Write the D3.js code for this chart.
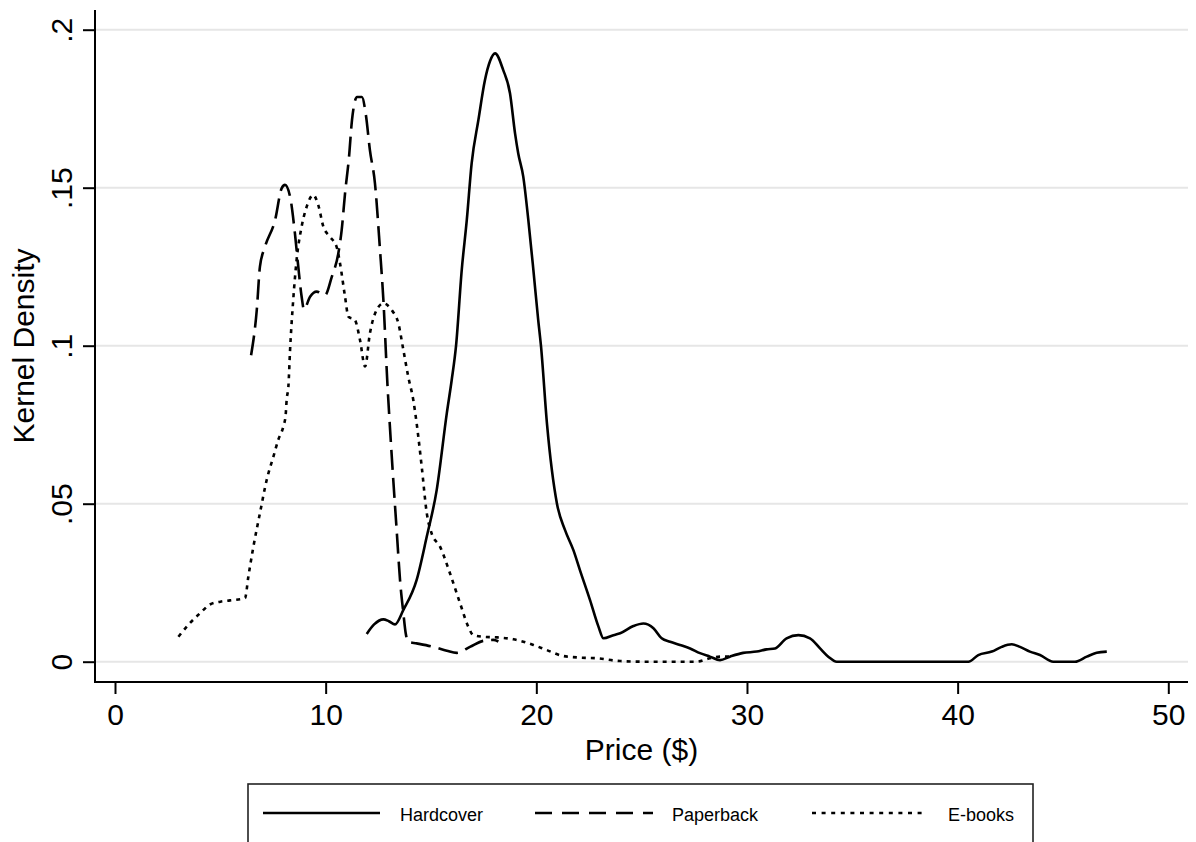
<!DOCTYPE html>
<html>
<head>
<meta charset="utf-8">
<script src="https://cdn.jsdelivr.net/npm/d3@7"></script>
<style>
  html, body { margin: 0; padding: 0; background: #fff; }
  svg { display: block; font-family: "Liberation Sans", Arial, Helvetica, sans-serif; }
</style>
</head>
<body>
<svg id="chart" width="1196" height="842"></svg>
<script>
// ---- data ----
const seriesNames = ["Hardcover", "Paperback", "E-books"];
const xTicks = [0, 10, 20, 30, 40, 50];
const yTicks = [0, 0.05, 0.1, 0.15, 0.2];
const yTickLabels = ["0", ".05", ".1", ".15", ".2"];

const hardcover = [
  [11.95,0.0088],[12.3,0.0118],[12.74,0.0134],[13.0,0.0128],[13.29,0.0118],[13.69,0.0164],
  [14.32,0.0259],[14.8,0.0396],[15.27,0.0543],[15.75,0.0786],[15.98,0.089],[16.19,0.1],
  [16.46,0.124],[16.7,0.1398],[16.93,0.1577],[17.25,0.1714],[17.56,0.184],[17.8,0.19],
  [18.04,0.1925],[18.43,0.1872],[18.75,0.1799],[18.99,0.1672],[19.14,0.1609],[19.38,0.1535],
  [19.62,0.1398],[19.86,0.124],[20.09,0.1081],[20.22,0.1],[20.51,0.075],[20.98,0.05],
  [21.36,0.0417],[21.76,0.0353],[22.07,0.029],[22.55,0.0195],[22.95,0.0111],[23.19,0.0074],
  [23.66,0.0084],[23.98,0.009],[24.61,0.0113],[25.08,0.0121],[25.56,0.0106],[25.95,0.0074],
  [26.35,0.0063],[26.82,0.0053],[27.3,0.0042],[27.77,0.0027],[28.24,0.0016],[28.72,0.0005],
  [29.19,0.0016],[29.82,0.0028],[30.46,0.0032],[30.93,0.0039],[31.33,0.0042],[31.88,0.0074],
  [32.44,0.0084],[32.99,0.0074],[33.47,0.0042],[33.86,0.0016],[34.26,0],[40.51,0],
  [40.98,0.0021],[41.62,0.0032],[42.09,0.0047],[42.57,0.0055],[42.96,0.0047],[43.43,0.0032],
  [43.91,0.0021],[44.54,0],[45.57,0],[46.13,0.0016],[46.6,0.0028],[47.08,0.0032]
];

const paperback = [
  [6.46,0.097],[6.73,0.1113],[6.88,0.125],[7.12,0.1313],[7.6,0.1398],[7.91,0.1498],
  [8.07,0.1509],[8.31,0.1472],[8.54,0.1356],[8.7,0.125],[8.86,0.1155],[8.97,0.1115],
  [9.26,0.1155],[9.57,0.1171],[9.97,0.116],[10.29,0.1218],[10.6,0.1292],[10.76,0.1366],
  [10.92,0.1482],[11.11,0.1598],[11.25,0.1714],[11.49,0.1787],[11.72,0.1787],[11.91,0.173],
  [12.1,0.1619],[12.34,0.1514],[12.58,0.1303],[12.74,0.1145],[12.93,0.0881],[13.06,0.0733],
  [13.21,0.0575],[13.37,0.0417],[13.53,0.0259],[13.69,0.0153],[13.8,0.009],[13.92,0.0063],
  [14.32,0.0058],[15.11,0.0047],[15.75,0.0035],[16.22,0.0028],[16.85,0.0047],[17.48,0.0066],
  [17.96,0.0069],[18.2,0.0064]
];

const ebooks = [
  [3.01,0.0079],[3.5,0.0118],[4.03,0.0153],[4.51,0.0181],[5.0,0.019],[5.46,0.0194],
  [6.17,0.0201],[6.33,0.0269],[6.57,0.0364],[6.88,0.047],[7.2,0.0575],[7.52,0.0649],
  [7.75,0.0702],[7.99,0.0744],[8.1,0.078],[8.15,0.083],[8.23,0.087],[8.31,0.0986],
  [8.46,0.1145],[8.62,0.1271],[8.86,0.1377],[9.1,0.144],[9.41,0.1477],[9.65,0.1445],
  [9.89,0.1377],[10.2,0.1345],[10.52,0.1313],[10.68,0.1261],[10.92,0.1155],[11.08,0.1092],
  [11.39,0.1081],[11.63,0.1018],[11.87,0.0934],[12.1,0.1039],[12.42,0.1113],[12.74,0.1134],
  [13.13,0.1113],[13.45,0.1071],[13.69,0.0986],[13.92,0.0902],[14.16,0.0828],[14.32,0.0754],
  [14.56,0.0617],[14.8,0.047],[15.03,0.0406],[15.43,0.0364],[15.9,0.028],[16.38,0.0185],
  [16.77,0.0111],[17.01,0.0084],[17.48,0.0079],[18.12,0.0077],[18.91,0.0071],[19.86,0.0053],
  [20.49,0.0037],[21.28,0.0018],[22.07,0.0013],[22.86,0.0011],[23.98,0.0002],[25.25,0],
  [27.62,0],[28.24,0.0011],[28.72,0.0016],[29.19,0.0016]
];

// ---- layout ----
const svg = d3.select("#chart");
const plotLeft = 95, plotRight = 1188, plotTop = 10, plotBottom = 682;
const x = d3.scaleLinear().domain([0, 50]).range([115, 1168.3]);
const y = d3.scaleLinear().domain([0, 0.2]).range([661.7, 29.7]);

svg.append("rect").attr("width", 1196).attr("height", 842).attr("fill", "#fff");

// gridlines
svg.append("g").selectAll("line").data(yTicks).join("line")
  .attr("x1", plotLeft).attr("x2", plotRight)
  .attr("y1", d => y(d)).attr("y2", d => y(d))
  .attr("stroke", "#e6e6e6").attr("stroke-width", 2);

// curves
const line = d3.line().x(d => x(d[0])).y(d => y(d[1])).curve(d3.curveMonotoneX);
const styles = [
  { data: hardcover, dash: null },
  { data: paperback, dash: "20,8" },
  { data: ebooks, dash: "4,5" }
];
styles.forEach(s => {
  svg.append("path").datum(s.data)
    .attr("d", line)
    .attr("fill", "none")
    .attr("stroke", "#000")
    .attr("stroke-width", 2.6)
    .attr("stroke-linejoin", "round")
    .attr("stroke-dasharray", s.dash);
});

// x axis
const xAxis = svg.append("g").attr("transform", `translate(0,${plotBottom})`)
  .call(d3.axisBottom(x).tickValues(xTicks).tickSize(12).tickFormat(d3.format("d")));
xAxis.select(".domain").remove();
xAxis.selectAll(".tick line").attr("stroke", "#000").attr("stroke-width", 2);
xAxis.selectAll(".tick text").attr("y", 43).attr("dy", 0)
  .attr("font-size", 30).attr("fill", "#000")
  .attr("font-family", "'Liberation Sans', Arial, sans-serif");
svg.append("line").attr("x1", plotLeft - 1).attr("x2", plotRight)
  .attr("y1", plotBottom).attr("y2", plotBottom)
  .attr("stroke", "#000").attr("stroke-width", 2);

// y axis
const yAxis = svg.append("g").attr("transform", `translate(${plotLeft},0)`)
  .call(d3.axisLeft(y).tickValues(yTicks).tickSize(12).tickFormat((d, i) => yTickLabels[i]));
yAxis.select(".domain").remove();
yAxis.selectAll(".tick line").attr("stroke", "#000").attr("stroke-width", 2);
yAxis.selectAll(".tick text")
  .attr("x", 0).attr("y", -23).attr("dy", 0)
  .attr("transform", "rotate(-90)")
  .attr("text-anchor", "middle")
  .attr("font-size", 30).attr("fill", "#000")
  .attr("font-family", "'Liberation Sans', Arial, sans-serif");
svg.append("line").attr("x1", plotLeft).attr("x2", plotLeft)
  .attr("y1", plotTop).attr("y2", plotBottom + 1)
  .attr("stroke", "#000").attr("stroke-width", 2);

// axis titles
svg.append("text").attr("x", (plotLeft + plotRight) / 2).attr("y", 760)
  .attr("text-anchor", "middle").attr("font-size", 30).attr("fill", "#000")
  .text("Price ($)");
svg.append("text").attr("transform", `translate(34,${(plotTop + plotBottom) / 2}) rotate(-90)`)
  .attr("text-anchor", "middle").attr("font-size", 30).attr("fill", "#000")
  .text("Kernel Density");

// legend
const legend = svg.append("g");
legend.append("rect").attr("x", 248).attr("y", 784).attr("width", 785).attr("height", 80)
  .attr("fill", "#fff").attr("stroke", "#222").attr("stroke-width", 1.6);
const legendItems = [
  { name: seriesNames[0], x1: 263, x2: 380, tx: 400, dash: null },
  { name: seriesNames[1], x1: 535, x2: 653, tx: 672, dash: "17,10" },
  { name: seriesNames[2], x1: 812, x2: 926, tx: 948, dash: "4,5.6" }
];
legendItems.forEach(it => {
  legend.append("line").attr("x1", it.x1).attr("x2", it.x2).attr("y1", 813).attr("y2", 813)
    .attr("stroke", "#000").attr("stroke-width", 2.6).attr("stroke-dasharray", it.dash);
  legend.append("text").attr("x", it.tx).attr("y", 821).attr("font-size", 18).attr("fill", "#000")
    .text(it.name);
});
</script>
</body>
</html>
